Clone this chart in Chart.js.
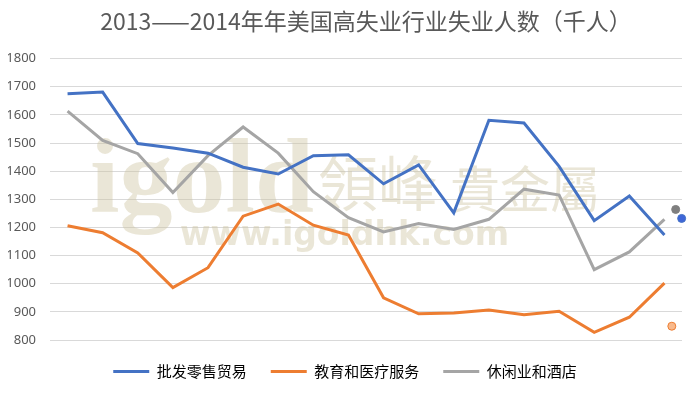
<!DOCTYPE html>
<html>
<head>
<meta charset="utf-8">
<script src="https://cdn.jsdelivr.net/npm/chart.js@4/dist/chart.umd.min.js"></script>
<style>
  html, body { margin: 0; padding: 0; background: #fff; }
  #wrap { width: 700px; height: 393px; }
</style>
</head>
<body>
<div id="wrap"><canvas id="chart"></canvas></div>
<script>
// months Jan 2013 .. Jun 2014 (axis labels are hidden in the original)
const months = ['2013-01', '2013-02', '2013-03', '2013-04', '2013-05', '2013-06',
  '2013-07', '2013-08', '2013-09', '2013-10', '2013-11', '2013-12',
  '2014-01', '2014-02', '2014-03', '2014-04', '2014-05', '2014-06'];

const seriesNames = ['批发零售贸易', '教育和医疗服务', '休闲业和酒店'];

const tradeValues = [1675, 1681, 1498, 1482, 1464, 1414, 1390, 1455, 1458,
  1355, 1422, 1252, 1581, 1571, 1417, 1224, 1312, 1173];
const eduValues = [1206, 1181, 1109, 986, 1057, 1240, 1283, 1208, 1173,
  950, 893, 896, 907, 890, 902, 827, 881, 1002];
const leisureValues = [1613, 1509, 1462, 1324, 1455, 1557, 1464, 1327, 1235,
  1184, 1214, 1193, 1229, 1336, 1315, 1050, 1113, 1229];

// stray dots at the right edge of the original picture (x in category units)
const strayX = [17.49, 17.21, 17.32];
const strayY = [1232, 849, 1264];

const yTicks = [800, 900, 1000, 1100, 1200, 1300, 1400, 1500, 1600, 1700, 1800];

const colors = ['#4472C4', '#ED7D31', '#A5A5A5'];
const strayFill = ['#3F66D8', '#F8B98C', '#7F7F7F'];

// faint watermark behind the lines
const watermark = {
  id: 'watermark',
  beforeDatasetsDraw(chart) {
    const ctx = chart.ctx;
    ctx.save();
    ctx.fillStyle = 'rgba(205, 196, 160, 0.42)';
    ctx.textBaseline = 'alphabetic';
    ctx.font = 'bold 106px "Liberation Serif", serif';
    ctx.fillText('igold', 90, 212);
    ctx.font = '60px "Noto Sans CJK TC", sans-serif';
    ctx.fillText('領峰', 318, 206);
    ctx.font = '50px "Noto Sans CJK TC", sans-serif';
    ctx.fillText('貴金屬', 450, 208);
    ctx.font = 'bold 33px "DejaVu Sans", sans-serif';
    ctx.fillText('www.igoldhk.com', 180, 245);
    ctx.restore();
  }
};

const lineSets = [tradeValues, eduValues, leisureValues].map((vals, i) => ({
  type: 'line',
  label: seriesNames[i],
  data: vals,
  borderColor: colors[i],
  backgroundColor: colors[i],
  borderWidth: 3,
  pointRadius: 0,
  tension: 0,
  xAxisID: 'x'
}));

const straySet = {
  type: 'scatter',
  label: 'stray',
  data: strayX.map((x, i) => ({ x: x, y: strayY[i] })),
  xAxisID: 'xs',
  pointRadius: 4,
  pointBackgroundColor: strayFill,
  pointBorderColor: [colors[0], colors[1], '#7F7F7F'],
  pointBorderWidth: 1,
  clip: false
};

new Chart(document.getElementById('chart'), {
  type: 'line',
  data: {
    labels: months,
    datasets: [...lineSets, straySet]
  },
  plugins: [watermark],
  options: {
    responsive: true,
    maintainAspectRatio: false,
    animation: false,
    layout: { padding: { left: 8, right: 18, top: 0, bottom: 4 } },
    plugins: {
      title: {
        display: true,
        fullSize: false,
        text: '2013——2014年年美国高失业行业失业人数（千人）',
        color: '#595959',
        font: { family: '"Noto Sans CJK SC", sans-serif', size: 23, weight: 'normal' },
        padding: { top: 7, bottom: 24 }
      },
      legend: {
        position: 'bottom',
        labels: {
          color: '#595959',
          font: { family: '"Noto Sans CJK SC", sans-serif', size: 15 },
          boxWidth: 36,
          boxHeight: 3,
          padding: 24,
          filter: item => item.datasetIndex < 3,
          generateLabels: chart => chart.data.datasets.map((ds, i) => ({
            text: ds.label,
            fillStyle: ds.borderColor,
            strokeStyle: ds.borderColor,
            lineWidth: 0,
            datasetIndex: i,
            hidden: false
          }))
        }
      },
      tooltip: { enabled: false }
    },
    scales: {
      x: {
        type: 'category',
        display: false,
        offset: true
      },
      xs: {
        type: 'linear',
        display: false,
        min: -0.5,
        max: 17.5
      },
      y: {
        min: 800,
        max: 1800,
        border: { display: false },
        grid: { color: '#D9D9D9', lineWidth: 1, drawTicks: false },
        afterBuildTicks: axis => { axis.ticks = yTicks.map(v => ({ value: v })); },
        afterFit: axis => { axis.width = 42; },
        ticks: {
          color: '#595959',
          padding: 14,
          font: { family: '"Noto Sans", sans-serif', size: 13 },
          callback: v => String(v)
        }
      }
    }
  }
});
</script>
</body>
</html>
